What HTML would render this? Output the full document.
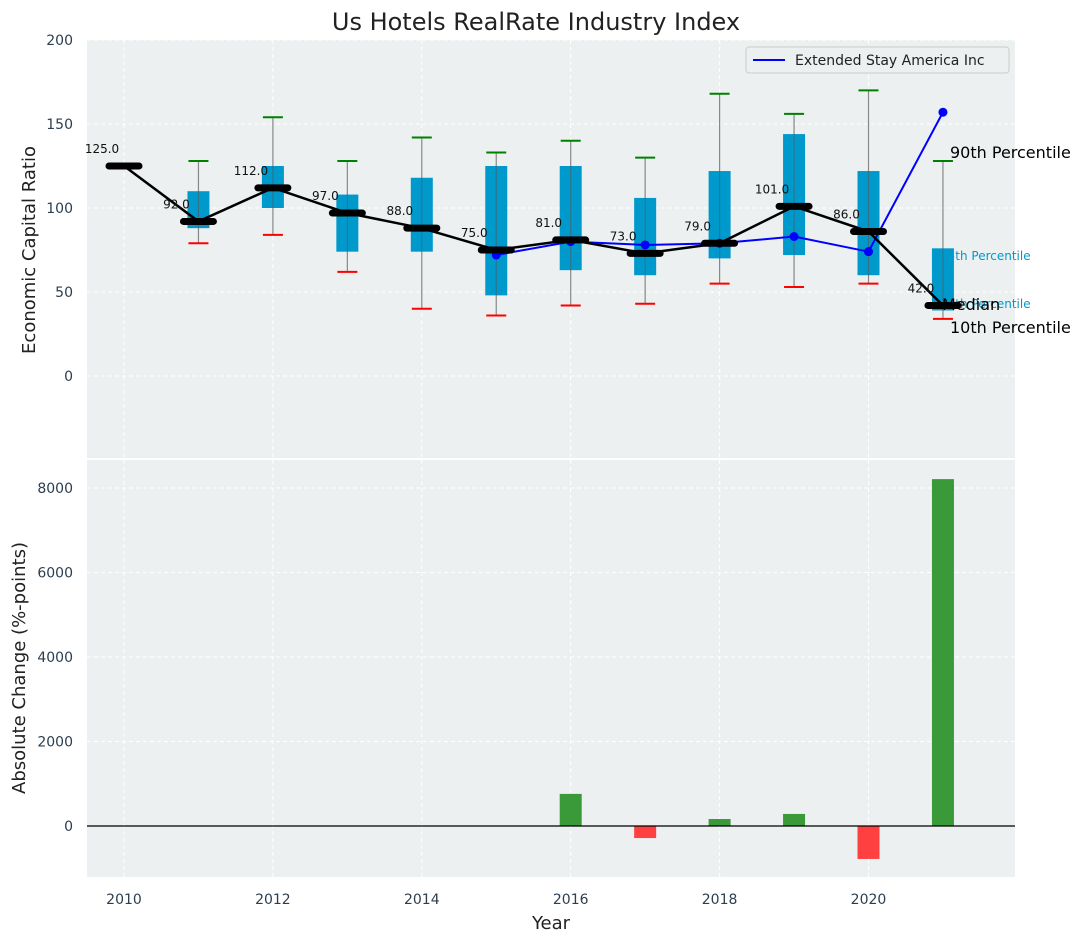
<!DOCTYPE html>
<html><head><meta charset="utf-8"><style>
body{margin:0;background:#fff;font-family:"Liberation Sans","DejaVu Sans",sans-serif}
svg text{font-family:"DejaVu Sans","Liberation Sans",sans-serif}
</style></head><body>
<svg id="chart" width="1085" height="942" xmlns="http://www.w3.org/2000/svg">
<text x="536" y="30" font-size="24" text-anchor="middle" fill="#222">Us Hotels RealRate Industry Index</text>
<rect x="87" y="40" width="928" height="418" fill="#ecf0f1"/>
<rect x="87" y="460" width="928" height="417" fill="#ecf0f1"/>
<g id="grid"></g><g id="top"></g><g id="bottom"></g><g id="axes"></g>
<g>
<rect x="746" y="47" width="263" height="26" fill="#ecf0f1" stroke="#ccc" rx="3"/>
<line x1="753" y1="60" x2="785" y2="60" stroke="#0000ff" stroke-width="2"/>
<text x="795" y="65" font-size="14" fill="#222">Extended Stay America Inc</text>
</g>
<text x="35" y="250" font-size="18" fill="#222" text-anchor="middle" transform="rotate(-90 35 250)">Economic Capital Ratio</text>
<text x="25" y="668" font-size="18" fill="#222" text-anchor="middle" transform="rotate(-90 25 668)">Absolute Change (%-points)</text>
<text x="551" y="929" font-size="18" fill="#222" text-anchor="middle">Year</text>
</svg>
<script>
const years=[2010,2011,2012,2013,2014,2015,2016,2017,2018,2019,2020,2021];
const medians=[125,92,112,97,88,75,81,73,79,101,86,42];
const q1=[null,88,100,74,74,48,63,60,70,72,60,39];
const q3=[null,110,125,108,118,125,125,106,122,144,122,76];
const p10=[null,79,84,62,40,36,42,43,55,53,55,34];
const p90=[null,128,154,128,142,133,140,130,168,156,170,128];
const companyYears=[2015,2016,2017,2018,2019,2020,2021];
const companyVals=[72,80,78,79,83,74,157];
const changeYears=[2016,2017,2018,2019,2020,2021];
const changeVals=[760,-285,165,285,-780,8210];
const topTicks=[0,50,100,150,200];
const botTicks=[0,2000,4000,6000,8000];
const xTicks=[2010,2012,2014,2016,2018,2020];

const NS="http://www.w3.org/2000/svg";
const X=v=>124+(v-2010)*74.45;
const YT=v=>376-v*1.68;
const YB=v=>826-v*0.04225;
function mk(p,tag,a){const e=document.createElementNS(NS,tag);for(const k in a)e.setAttribute(k,a[k]);p.appendChild(e);return e;}
const grid=document.getElementById('grid'),top_=document.getElementById('top'),bot=document.getElementById('bottom'),axes=document.getElementById('axes');
xTicks.forEach(t=>{
 let l=mk(grid,'line',{x1:X(t),x2:X(t),y1:40,y2:458,stroke:'#fff','stroke-dasharray':'4,3'});
 
 
 let l2=mk(grid,'line',{x1:X(t),x2:X(t),y1:460,y2:877,stroke:'#fff','stroke-dasharray':'4,3'});
 
 
 let tx=mk(axes,'text',{x:X(t),y:904,'font-size':14,fill:'#2c3e50','text-anchor':'middle'});tx.textContent=t;
 
 
});
topTicks.forEach(t=>{
 let l=mk(grid,'line',{x1:87,x2:1015,y1:YT(t),y2:YT(t),stroke:'#fff','stroke-dasharray':'4,3'});
 
 
 let tx=mk(axes,'text',{x:73,y:YT(t)+5,'font-size':14,fill:'#2c3e50','text-anchor':'end'});tx.textContent=t;
 
 
});
botTicks.forEach(t=>{
 let l=mk(grid,'line',{x1:87,x2:1015,y1:YB(t),y2:YB(t),stroke:'#fff','stroke-dasharray':'4,3'});
 
 
 let tx=mk(axes,'text',{x:73,y:YB(t)+5,'font-size':14,fill:'#2c3e50','text-anchor':'end'});tx.textContent=t;
 
 
});
[["75th Percentile",256],["25th Percentile",304]].forEach(([s,y])=>{
 let t=mk(top_,'text',{x:940,y:y+4,'font-size':12,fill:'#0099cc'});t.textContent=s;
 
 
});
years.forEach((y,i)=>{
 if(q1[i]===null)return;
 let w=mk(top_,'line',{x1:X(y),x2:X(y),y1:YT(p90[i]),y2:YT(p10[i]),stroke:'#888','stroke-width':1.2});
 
 
 let b=mk(top_,'rect',{x:X(y)-11,y:YT(q3[i]),width:22,height:YT(q1[i])-YT(q3[i]),fill:'#0099cc'});
 
 
 mk(top_,'line',{x1:X(y),x2:X(y),y1:YT(q3[i]),y2:YT(q1[i]),stroke:'#555','stroke-width':1,opacity:0.6});
 let h=mk(top_,'line',{x1:X(y)-10,x2:X(y)+10,y1:YT(p90[i]),y2:YT(p90[i]),stroke:'green','stroke-width':2});
 
 
 let lo=mk(top_,'line',{x1:X(y)-10,x2:X(y)+10,y1:YT(p10[i]),y2:YT(p10[i]),stroke:'red','stroke-width':2});
 
 
});
let cp=mk(top_,'polyline',{points:companyYears.map((y,i)=>X(y)+','+YT(companyVals[i])).join(' '),fill:'none',stroke:'#0000ff','stroke-width':2});


companyYears.forEach((y,i)=>{
 let c=mk(top_,'circle',{cx:X(y),cy:YT(companyVals[i]),r:4.5,fill:'#0000ff'});
 
 
});
let ml=mk(top_,'polyline',{points:years.map((y,i)=>X(y)+','+YT(medians[i])).join(' '),fill:'none',stroke:'#000','stroke-width':2.5});


years.forEach((y,i)=>{
 let m=mk(top_,'line',{x1:X(y)-15,x2:X(y)+15,y1:YT(medians[i]),y2:YT(medians[i]),stroke:'#000','stroke-width':7,'stroke-linecap':'round'});
 
 
 let t=mk(top_,'text',{x:X(y)-22,y:YT(medians[i])-13,'font-size':12,fill:'#111','text-anchor':'middle'});t.textContent=medians[i].toFixed(1);
 
 
});
[["90th Percentile",950,158],["Median",942,310],["10th Percentile",950,333]].forEach(([s,x,y])=>{
 let t=mk(top_,'text',{x:x,y:y,'font-size':16,fill:'#000'});t.textContent=s;
 
 
});
changeYears.forEach((y,i)=>{
 const v=changeVals[i];
 let r=mk(bot,'rect',{x:X(y)-11,y:Math.min(YB(v),YB(0)),width:22,height:Math.abs(YB(v)-YB(0)),fill:v>=0?'#3a9a3a':'#ff4040'});
 
 
});
let z=mk(bot,'line',{x1:87,x2:1015,y1:YB(0),y2:YB(0),stroke:'#000','stroke-width':1.2});


</script>
</body></html>
